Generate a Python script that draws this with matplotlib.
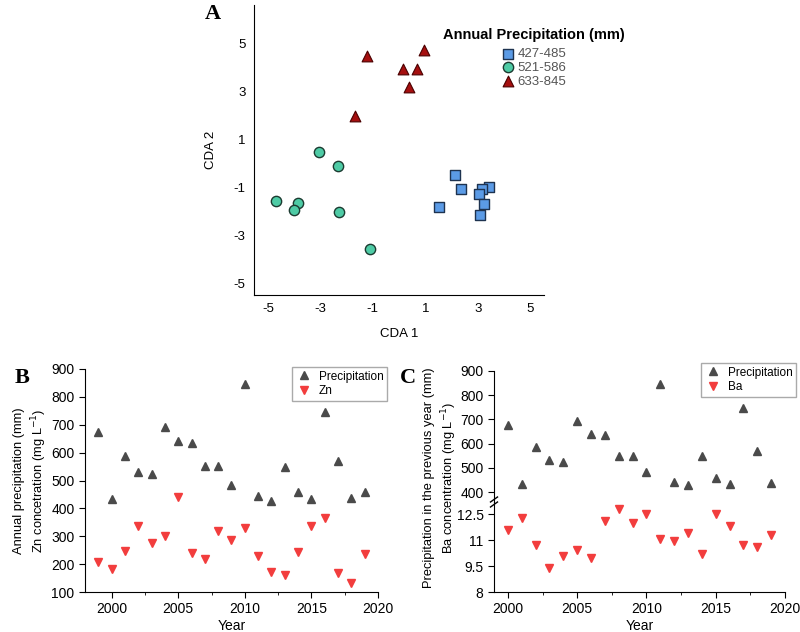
import numpy as np
import matplotlib.pyplot as plt

plt.rcParams['font.family'] = ['Liberation Sans', 'DejaVu Sans']
plt.rcParams['axes.unicode_minus'] = False

# panel A: CDA scores by precipitation group
sq_x = [2.12, 2.36, 1.51, 3.45, 3.18, 3.06, 3.23, 3.10]
sq_y = [-0.48, -1.07, -1.84, -0.97, -1.08, -1.29, -1.70, -2.16]
ci_x = [-3.05, -2.34, -4.69, -3.85, -3.99, -2.29, -1.11]
ci_y = [0.50, -0.10, -1.56, -1.66, -1.95, -2.03, -3.57]
tr_x = [-1.22, 0.94, 0.16, 0.69, 0.39, -1.68]
tr_y = [4.51, 4.76, 3.97, 3.97, 3.22, 1.99]
groups = ['427-485', '521-586', '633-845']

# panel B: precipitation and Zn by year
years_b = np.arange(1999, 2020)
precip = [675, 435, 587, 532, 523, 693, 641, 634, 551, 551, 484,
          846, 443, 428, 547, 457, 433, 746, 571, 436, 457]
zn = [209, 184, 247, 335, 274, 301, 440, 239, 219, 320, 286,
      330, 228, 171, 161, 244, 337, 366, 168, 132, 236]

# panel C: previous-year precipitation and Ba
years_c = np.arange(2000, 2020)
precip_prev = precip[:-1]
ba = [11.59, 12.29, 10.69, 9.39, 10.09, 10.40, 9.99, 12.09, 12.79, 12.00,
      12.50, 11.07, 10.92, 11.40, 10.20, 12.50, 11.79, 10.70, 10.61, 11.32]

fig = plt.figure(figsize=(8, 6.32), dpi=100)
W, H = 800, 632

def box(l, t, r, b):
    return [l / W, 1 - b / H, (r - l) / W, (b - t) / H]

# ---- A ----
axA = fig.add_axes(box(254, 5, 544, 295))
axA.scatter(sq_x, sq_y, marker='s', s=50, c='#5b9be6', edgecolors='#1e3350', linewidths=1, label=groups[0], zorder=3)
axA.scatter(ci_x, ci_y, marker='o', s=55, c='#4ecba5', edgecolors='#1b3a30', linewidths=1, label=groups[1], zorder=3)
axA.scatter(tr_x, tr_y, marker='^', s=60, c='#a50f0f', edgecolors='#4a0000', linewidths=0.8, label=groups[2], zorder=3)
axA.set_xlim(-5.53, 5.53)
axA.set_ylim(-5.5, 6.63)
axA.set_xticks([-5, -3, -1, 1, 3, 5])
axA.set_yticks([-5, -3, -1, 1, 3, 5])
axA.spines['top'].set_visible(False)
axA.spines['right'].set_visible(False)
axA.tick_params(length=0, labelsize=9.5, pad=6)
axA.set_xlabel('CDA 1', fontsize=9.5, labelpad=9)
axA.set_ylabel('CDA 2', fontsize=9.5, labelpad=12)
leg = axA.legend(title='Annual Precipitation (mm)', frameon=False, fontsize=9.5,
                 loc='upper center', bbox_to_anchor=(534 / W, 1 - 27 / H),
                 bbox_transform=fig.transFigure, labelspacing=0.12,
                 handletextpad=0.2, handlelength=1.0, borderpad=0.1, borderaxespad=0,
                 title_fontproperties={'weight': 'bold', 'size': 10.5})
leg._legend_box.sep = 4
for t in leg.get_texts():
    t.set_color('#555555')
fig.text(213 / W, 1 - 14 / H, 'A', fontsize=16, fontweight='bold', family='Liberation Serif', ha='center', va='center')

# ---- B ----
axB = fig.add_axes(box(85, 369, 378, 592))
axB.plot(years_b, precip, '^', color='#4a4a4a', markersize=5.5, label='Precipitation')
axB.plot(years_b, zn, 'v', color='#f23d3d', markersize=5.5, label='Zn')
axB.set_xlim(1998, 2020)
axB.set_ylim(100, 900)
axB.set_xticks([2000, 2005, 2010, 2015, 2020])
axB.set_xticks(np.arange(2002.5, 2020, 5), minor=True)
axB.set_yticks(np.arange(100, 901, 100))
axB.spines['top'].set_visible(False)
axB.spines['right'].set_visible(False)
axB.tick_params(which='major', length=4, labelsize=10, direction='out')
axB.tick_params(which='minor', length=2.5, direction='out')
axB.set_xlabel('Year', fontsize=10, labelpad=2)
axB.legend(loc='upper right', bbox_to_anchor=(387 / W, 1 - 367 / H), bbox_transform=fig.transFigure,
           fontsize=8.5, fancybox=False, edgecolor='#aaaaaa', framealpha=1, borderaxespad=0,
           handletextpad=0.5, borderpad=0.3, labelspacing=0.25, handlelength=1.5)
fig.text(31 / W, 1 - 481 / H, 'Annual precipitation (mm)\nZn concetration (mg L$^{-1}$)',
         rotation=90, ha='center', va='center', fontsize=9.3, linespacing=1.3)
fig.text(22 / W, 1 - 378 / H, 'B', fontsize=16, fontweight='bold', family='Liberation Serif', ha='center', va='center')

# ---- C ----
axCu = fig.add_axes(box(494, 371, 785, 502))
axCl = fig.add_axes(box(494, 502, 785, 592))
axCu.plot(years_c, precip_prev, '^', color='#4a4a4a', markersize=5.5, label='Precipitation')
axCl.plot(years_c, ba, 'v', color='#f23d3d', markersize=5.5, label='Ba')
for ax in (axCu, axCl):
    ax.set_xlim(1999, 2020)
    ax.spines['top'].set_visible(False)
    ax.spines['right'].set_visible(False)
    ax.tick_params(which='major', length=4, labelsize=10, direction='out')
    ax.tick_params(which='minor', length=2.5, direction='out')
axCu.set_ylim(359, 900)
axCu.set_yticks([400, 500, 600, 700, 800, 900])
axCu.spines['bottom'].set_visible(False)
axCu.tick_params(axis='x', which='both', bottom=False, labelbottom=False)
axCl.set_ylim(8, 13.2)
axCl.set_yticks([8, 9.5, 11, 12.5])
axCl.set_yticklabels(['8', '9.5', '11', '12.5'])
axCl.set_xticks([2000, 2005, 2010, 2015, 2020])
axCl.set_xticks(np.arange(2002.5, 2020, 5), minor=True)
axCl.set_xlabel('Year', fontsize=10, labelpad=2)
# axis break marks
for dy in (-2.5, 2.5):
    y0 = (1 - (502 + dy) / H)
    fig.add_artist(plt.Line2D([490.5 / W, 497.5 / W], [y0 - 2.5 / H, y0 + 2.5 / H], color='black', lw=1))
h1, l1 = axCu.get_legend_handles_labels()
h2, l2 = axCl.get_legend_handles_labels()
axCu.legend(h1 + h2, l1 + l2, loc='upper right', bbox_to_anchor=(796 / W, 1 - 363 / H),
            bbox_transform=fig.transFigure, fontsize=8.5, fancybox=False, edgecolor='#aaaaaa',
            framealpha=1, borderaxespad=0, handletextpad=0.5, borderpad=0.3, labelspacing=0.25,
            handlelength=1.5)
fig.text(441 / W, 1 - 478 / H, 'Precipitation in the previous year (mm)\nBa concentration (mg L$^{-1}$)',
         rotation=90, ha='center', va='center', fontsize=9.3, linespacing=1.3)
fig.text(408 / W, 1 - 378 / H, 'C', fontsize=16, fontweight='bold', family='Liberation Serif', ha='center', va='center')

fig.savefig('out.png', dpi=100)
